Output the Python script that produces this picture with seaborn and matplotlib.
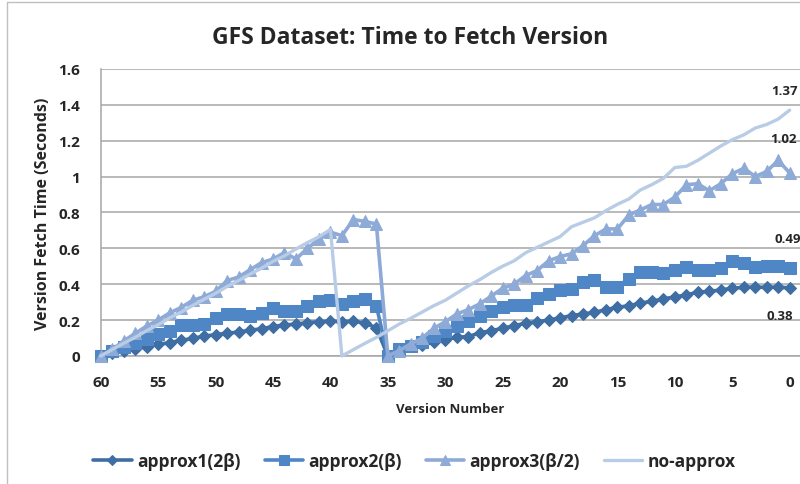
import numpy as np
import pandas as pd
import matplotlib
matplotlib.use("Agg")
import matplotlib.pyplot as plt
from matplotlib.lines import Line2D
import seaborn as sns

# versions from 60 down to 0
versions = list(range(60, -1, -1))

approx1 = [0, 0.019, 0.028, 0.037, 0.052, 0.065, 0.074, 0.087, 0.098, 0.11,
           0.119, 0.126, 0.134, 0.143, 0.152, 0.164, 0.173, 0.177, 0.186, 0.19,
           0.195, 0.19, 0.195, 0.182, 0.158, 0,
           0.039, 0.054, 0.063, 0.076, 0.091, 0.104, 0.108, 0.128, 0.141, 0.154,
           0.169, 0.182, 0.191, 0.2, 0.212, 0.225, 0.234, 0.243, 0.258, 0.271,
           0.28, 0.294, 0.305, 0.318, 0.329, 0.34, 0.355, 0.36, 0.368, 0.377,
           0.383, 0.383, 0.383, 0.383, 0.38]

approx2 = [0, 0.028, 0.052, 0.074, 0.097, 0.12, 0.139, 0.173, 0.173, 0.177,
           0.214, 0.233, 0.233, 0.223, 0.238, 0.27, 0.25, 0.25, 0.28, 0.307,
           0.312, 0.29, 0.305, 0.32, 0.28, 0,
           0.039, 0.058, 0.08, 0.11, 0.141, 0.169, 0.197, 0.221, 0.253, 0.271,
           0.284, 0.284, 0.323, 0.346, 0.368, 0.374, 0.414, 0.426, 0.387, 0.387,
           0.43, 0.467, 0.467, 0.461, 0.481, 0.494, 0.481, 0.481, 0.489, 0.528,
           0.519, 0.494, 0.504, 0.504, 0.49]

approx3 = [0, 0.037, 0.084, 0.126, 0.167, 0.2, 0.24, 0.27, 0.31, 0.33,
           0.36, 0.42, 0.44, 0.48, 0.52, 0.54, 0.576, 0.54, 0.6, 0.65,
           0.69, 0.67, 0.76, 0.75, 0.735, 0,
           0.03, 0.067, 0.1, 0.154, 0.19, 0.234, 0.258, 0.29, 0.333, 0.377,
           0.4, 0.448, 0.476, 0.53, 0.554, 0.569, 0.615, 0.67, 0.708, 0.708,
           0.786, 0.814, 0.844, 0.844, 0.885, 0.954, 0.96, 0.92, 0.96, 1.015,
           1.046, 1.0, 1.028, 1.09, 1.02]

no_approx = [0, 0.036, 0.071, 0.104, 0.141, 0.174, 0.212, 0.244, 0.281, 0.316,
             0.349, 0.387, 0.42, 0.456, 0.489, 0.527, 0.558, 0.596, 0.632, 0.664,
             0.705,
             0, 0.035, 0.07, 0.103, 0.14, 0.178, 0.21, 0.245, 0.28, 0.31,
             0.35, 0.39, 0.425, 0.465, 0.5, 0.53, 0.575, 0.605, 0.635, 0.665,
             0.72, 0.745, 0.77, 0.81, 0.845, 0.875, 0.925, 0.955, 0.99, 1.05,
             1.057, 1.09, 1.13, 1.17, 1.205, 1.232, 1.27, 1.29, 1.32, 1.37]

series_names = ["approx1(2β)", "approx2(β)", "approx3(β/2)", "no-approx"]
end_labels = ["0.38", "0.49", "1.02", "1.37"]

sns.set_style("white")
plt.rcParams['font.family'] = ['Open Sans', 'DejaVu Sans']
plt.rcParams['font.weight'] = 'bold'

fig = plt.figure(figsize=(8, 4.85), dpi=100)
ax = fig.add_axes([0.126, 0.264, 0.874, 0.592])

styles = [
    dict(color='#3E6EA3', marker='D', markersize=6.5, lw=2.6),
    dict(color='#4F86C5', marker='s', markersize=8.5, lw=2.6),
    dict(color='#8EAAD6', marker='^', markersize=9, lw=2.6),
    dict(color='#B9CCE6', marker=None, markersize=0, lw=2.4),
]

df = pd.DataFrame({"version": versions, series_names[0]: approx1,
                   series_names[1]: approx2, series_names[2]: approx3,
                   series_names[3]: no_approx})

for name, st in zip(series_names, styles):
    sns.lineplot(data=df, x="version", y=name, ax=ax, color=st['color'],
                 marker=st['marker'], markersize=st['markersize'],
                 markeredgecolor=st['color'], linewidth=st['lw'],
                 label=name, legend=False, clip_on=False, zorder=3)

ax.set_xlim(60, -0.9)
ax.set_ylim(0, 1.6)
ax.set_yticks(np.arange(0, 1.61, 0.2))
ax.set_yticklabels(['0', '0.2', '0.4', '0.6', '0.8', '1', '1.2', '1.4', '1.6'])
ax.set_xticks(range(60, -1, -5))
ax.set_xticks(range(60, -1, -1), minor=True)
ax.yaxis.grid(True, color='#A6A6A6', lw=1.1)
ax.set_axisbelow(True)
for s in ['top', 'right']:
    ax.spines[s].set_visible(False)
for s in ['left', 'bottom']:
    ax.spines[s].set_color('#A6A6A6')
    ax.spines[s].set_linewidth(1.1)
ax.tick_params(axis='x', which='both', direction='out', length=5, color='#A6A6A6',
               labelsize=11, pad=9)
ax.tick_params(axis='y', direction='out', length=5, color='#A6A6A6',
               labelsize=11, pad=10)
for lab in ax.get_xticklabels() + ax.get_yticklabels():
    lab.set_fontweight('bold')

ax.set_xlabel("Version Number", fontsize=9.5, fontweight='bold', labelpad=9)
ax.set_ylabel("Version Fetch Time (Seconds)", fontsize=11.5, fontweight='bold', labelpad=5)

# end-point labels
end_vals = [approx1[-1], approx2[-1], approx3[-1], no_approx[-1]]
offsets = [(-17, -20), (-11, 21), (-14, 25), (-13, 14)]
for lab, val, off in zip(end_labels, end_vals, offsets):
    ax.annotate(lab, xy=(0, val), xytext=off, textcoords='offset points',
                ha='left', va='center', fontsize=9.5, fontweight='bold',
                annotation_clip=False)

fig.text(0.5125, 0.921, "GFS Dataset: Time to Fetch Version", ha='center', va='center',
         fontsize=16.5, fontweight='bold')

handles, labels = ax.get_legend_handles_labels()
fig.legend(handles, labels, loc='center', bbox_to_anchor=(0.518, 0.047), ncol=4,
           frameon=False, fontsize=12.5, handlelength=2.2, columnspacing=1.4,
           handletextpad=0.3, markerscale=0.8)

# outer chart border
fig.add_artist(Line2D([7 / 800, 7 / 800], [0, 1 - 3 / 485], color='#BFBFBF', lw=1,
                      transform=fig.transFigure))
fig.add_artist(Line2D([7 / 800, 1], [1 - 3 / 485, 1 - 3 / 485], color='#BFBFBF', lw=1,
                      transform=fig.transFigure))

fig.savefig("out.png", dpi=100)
